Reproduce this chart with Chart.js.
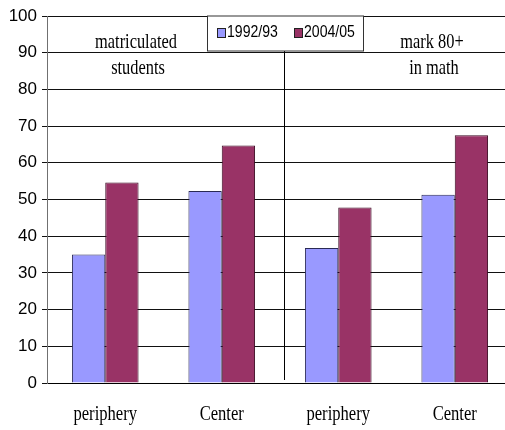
<!DOCTYPE html>
<html>
<head>
<meta charset="utf-8">
<script src="https://cdn.jsdelivr.net/npm/chart.js@4/dist/chart.umd.min.js"></script>
<style>
  html, body { margin: 0; padding: 0; background: #ffffff; overflow: hidden; }
  #wrap { width: 505px; height: 430px; overflow: hidden; position: relative; }
  canvas { display: block; }
</style>
</head>
<body>
<div id="wrap"><canvas id="chart" width="513" height="430"></canvas></div>
<script>
// Categories along the x axis (two groups of two)
const categories = ['periphery', 'Center', 'periphery', 'Center'];
// Series labels
const seriesNames = ['1992/93', '2004/05'];
// Percentages per category
const values1992 = [35, 52.3, 36.8, 51.3];
const values2004 = [54.6, 64.7, 47.8, 67.5];
// Y axis tick range
const yTickMin = 0;
const yTickMax = 100;
const yTickStep = 10;
// Group headings
const leftHeading = ['matriculated', 'students'];
const rightHeading = ['mark 80+', 'in math'];

const fillColors = ['#9999ff', '#993366'];
const edgeColors = ['#2a2a55', '#3a0a22'];
const serifFont = '"Liberation Serif", "Times New Roman", serif';

// draws narrow (horizontally squeezed) text centred on x
function narrowText(ctx, text, x, y, squeeze, align) {
  ctx.save();
  ctx.translate(x, y);
  ctx.scale(squeeze, 1);
  ctx.textAlign = align || 'center';
  ctx.fillText(text, 0, 0);
  ctx.restore();
}

const overlay = {
  id: 'overlay',
  afterDraw(chart) {
    const ctx = chart.ctx;
    const xs = chart.scales.x;
    const ys = chart.scales.y;
    const top = chart.chartArea.top;
    ctx.save();

    // divider between the two groups
    const divX = Math.round(xs.getPixelForValue(1.5) + 4) + 0.5;
    ctx.strokeStyle = '#000000';
    ctx.lineWidth = 1;
    ctx.beginPath();
    ctx.moveTo(divX, top);
    ctx.lineTo(divX, ys.bottom - 3);
    ctx.stroke();

    // legend box
    const lx = 207.5, ly = top, lw = 156, lh = 35;
    ctx.fillStyle = '#ffffff';
    ctx.fillRect(lx, ly, lw, lh);
    ctx.strokeStyle = '#333333';
    ctx.strokeRect(lx, ly, lw, lh);

    ctx.font = '16px "Liberation Sans", Arial, sans-serif';
    ctx.textBaseline = 'middle';
    const items = [
      { x: 217, label: chart.data.datasets[0].label, c: 0 },
      { x: 294, label: chart.data.datasets[1].label, c: 1 }
    ];
    items.forEach(it => {
      ctx.fillStyle = fillColors[it.c];
      ctx.fillRect(it.x + 0.5, 28.5, 8, 9);
      ctx.strokeStyle = '#222222';
      ctx.strokeRect(it.x + 0.5, 28.5, 8, 9);
      ctx.fillStyle = '#000000';
      narrowText(ctx, it.label, it.x + 10, 33, 0.88, 'left');
    });

    // group headings
    ctx.font = '21px ' + serifFont;
    ctx.textBaseline = 'alphabetic';
    ctx.fillStyle = '#000000';
    narrowText(ctx, leftHeading[0], 136, 48, 0.78);
    narrowText(ctx, leftHeading[1], 138, 74, 0.78);
    narrowText(ctx, rightHeading[0], 432, 48, 0.78);
    narrowText(ctx, rightHeading[1], 434, 74, 0.78);

    // category labels under the axis
    ctx.font = '20px ' + serifFont;
    chart.data.labels.forEach((lab, i) => {
      narrowText(ctx, lab, xs.getPixelForTick(i), ys.bottom + 37, 0.83);
    });

    ctx.restore();
  }
};

new Chart(document.getElementById('chart'), {
  type: 'bar',
  data: {
    labels: categories,
    datasets: [
      {
        label: seriesNames[0],
        data: values1992,
        backgroundColor: fillColors[0],
        borderColor: edgeColors[0],
        borderWidth: 1,
        categoryPercentage: 0.572,
        barPercentage: 1.0
      },
      {
        label: seriesNames[1],
        data: values2004,
        backgroundColor: fillColors[1],
        borderColor: edgeColors[1],
        borderWidth: 1,
        categoryPercentage: 0.572,
        barPercentage: 1.0
      }
    ]
  },
  options: {
    responsive: false,
    animation: false,
    devicePixelRatio: 1,
    layout: { padding: { top: 16, right: 0, left: 0, bottom: 0 } },
    plugins: {
      legend: { display: false },
      tooltip: { enabled: false }
    },
    scales: {
      x: {
        grid: { display: false, drawTicks: false },
        border: { display: true, color: '#000000', width: 1 },
        ticks: { display: false },
        afterFit(scale) { scale.height = 47; }
      },
      y: {
        min: yTickMin,
        max: yTickMax,
        ticks: {
          stepSize: yTickStep,
          color: '#000000',
          padding: 5,
          font: { family: '"Liberation Sans", Arial, sans-serif', size: 17 }
        },
        grid: { color: '#111111', lineWidth: 1, tickLength: 5, drawTicks: true },
        border: { display: true, color: '#707070', width: 1 },
        afterFit(scale) { scale.width = 47; }
      }
    }
  },
  plugins: [overlay]
});
</script>
</body>
</html>
